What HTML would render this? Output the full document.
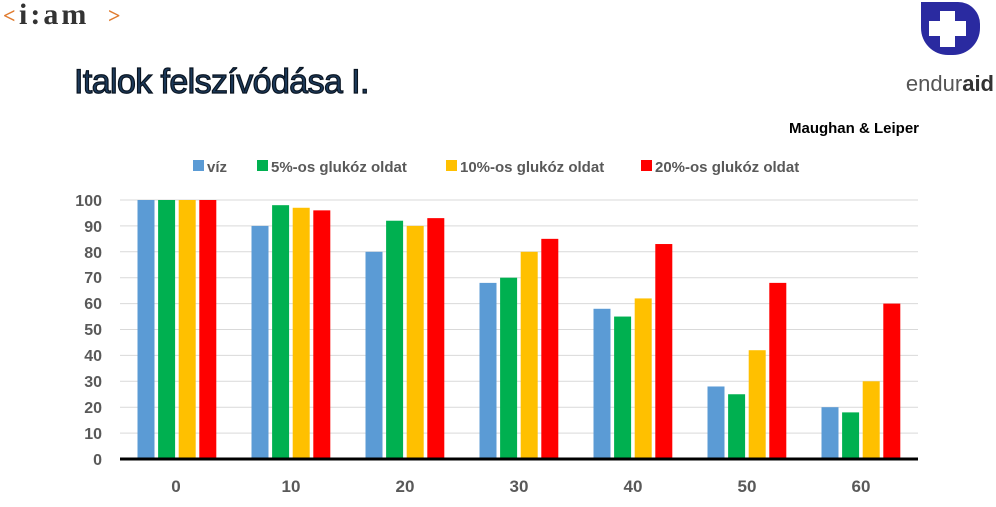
<!DOCTYPE html>
<html><head><meta charset="utf-8"><style>
body{margin:0;background:#fff;width:996px;height:502px;overflow:hidden;font-family:"Liberation Sans",sans-serif}
</style></head><body>
<svg id="s" width="996" height="502" xmlns="http://www.w3.org/2000/svg" font-family="Liberation Sans, sans-serif">
<text x="3" y="23" font-family="Liberation Serif, serif" font-size="22" font-weight="bold" fill="#e07b2e">&lt;</text>
<text x="19" y="24" font-family="Liberation Serif, serif" font-size="30" font-weight="bold" fill="#333" letter-spacing="3">i:am</text>
<text x="108" y="23" font-family="Liberation Serif, serif" font-size="22" font-weight="bold" fill="#e07b2e">&gt;</text>
<text x="74" y="93" font-size="34" fill="#1d3a5a" stroke="#0a1522" stroke-width="1.2" letter-spacing="-0.6">Italok felszívódása I.</text>
<path d="M921,2 H958 A22,22 0 0 1 980,24 V28 A27,27 0 0 1 953,55 H948 A27,27 0 0 1 921,28 Z" fill="#2a2aa0"/>
<rect x="940" y="11" width="15" height="36" fill="#fff"/><rect x="929" y="21" width="37" height="15" fill="#fff"/>
<text x="994" y="91" text-anchor="end" font-size="22" fill="#555">endur<tspan font-weight="bold" fill="#333">aid</tspan></text>
<text x="919" y="133" text-anchor="end" font-size="15" font-weight="bold" fill="#000">Maughan &amp; Leiper</text>
<g font-size="15" font-weight="bold" fill="#595959">
<rect x="193" y="160" width="11" height="11" fill="#5b9bd5"/><text x="207" y="172">víz</text>
<rect x="257" y="160" width="11" height="11" fill="#00b050"/><text x="271" y="172">5%-os glukóz oldat</text>
<rect x="446" y="160" width="11" height="11" fill="#ffc000"/><text x="460" y="172">10%-os glukóz oldat</text>
<rect x="641" y="160" width="11" height="11" fill="#ff0000"/><text x="655" y="172">20%-os glukóz oldat</text>
</g>
<g id="grid" stroke="#d9d9d9" stroke-width="1"></g>
<g id="bars"></g>
<line x1="120" y1="459" x2="918" y2="459" stroke="#000" stroke-width="3"/>
<g font-size="16" font-weight="bold" fill="#595959" text-anchor="end">
<text x="102" y="465">0</text><text x="102" y="439">10</text><text x="102" y="413">20</text><text x="102" y="387">30</text><text x="102" y="361">40</text><text x="102" y="335">50</text><text x="102" y="309">60</text><text x="102" y="283">70</text><text x="102" y="258">80</text><text x="102" y="232">90</text><text x="102" y="206">100</text>
</g>
<g font-size="17" font-weight="bold" fill="#595959" text-anchor="middle">
<text x="176" y="492">0</text><text x="291" y="492">10</text><text x="405" y="492">20</text><text x="519" y="492">30</text><text x="633" y="492">40</text><text x="747" y="492">50</text><text x="861" y="492">60</text>
</g>
</svg>
<script>
var ns="http://www.w3.org/2000/svg",g=document.getElementById("grid"),b=document.getElementById("bars");
for(var i=1;i<=10;i++){var y=459-25.9*i;var l=document.createElementNS(ns,"line");l.setAttribute("x1",120);l.setAttribute("x2",918);l.setAttribute("y1",y);l.setAttribute("y2",y);g.appendChild(l);}
var d=[[100,100,100,100],[90,98,97,96],[80,92,90,93],[68,70,80,85],[58,55,62,83],[28,25,42,68],[20,18,30,60]];
var c=["#5b9bd5","#00b050","#ffc000","#ff0000"];
for(var k=0;k<7;k++)for(var j=0;j<4;j++){var r=document.createElementNS(ns,"rect");var h=2.59*d[k][j];var x=137.5+114*k+20.6*j;r.setAttribute("x",x);r.setAttribute("width",17);r.setAttribute("y",459-h);r.setAttribute("height",h);r.setAttribute("fill",c[j]);b.appendChild(r);}
</script>
</body></html>
